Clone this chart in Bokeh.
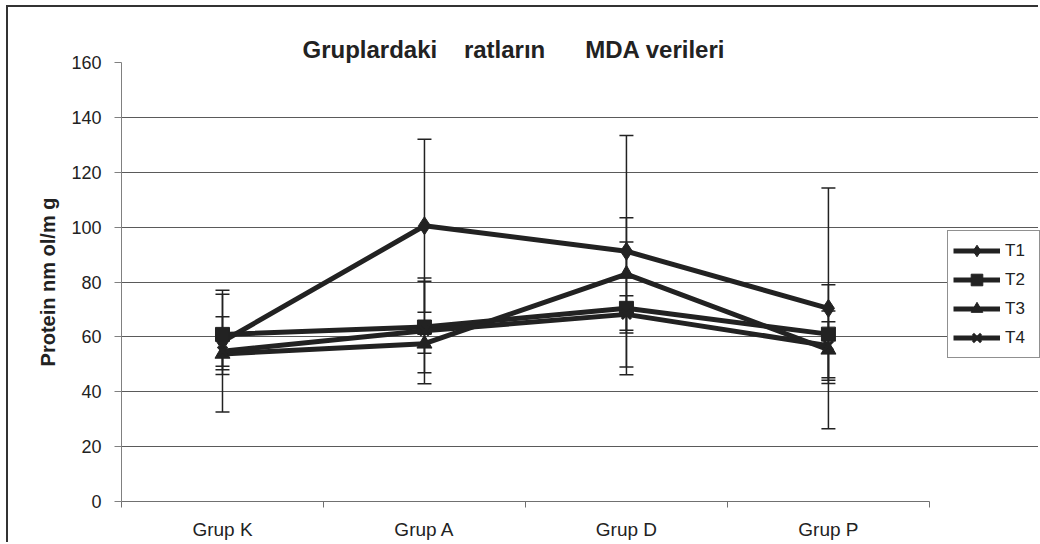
from bokeh.plotting import figure
from bokeh.models import (Range1d, FixedTicker, Whisker, TeeHead,
                          ColumnDataSource, Legend, LegendItem)
from bokeh.embed import file_html
from bokeh.resources import INLINE

# ---------------- data ----------------
groups = ["Grup K", "Grup A", "Grup D", "Grup P"]
series_names = ["T1", "T2", "T3", "T4"]
T1 = [58.3, 100.5, 91.2, 70.4]
T1_sd = [9.0, 31.5, 42.2, 43.9]
T2 = [60.9, 63.6, 70.4, 61.0]
T2_sd = [14.6, 16.7, 24.2, 18.0]
T3 = [53.8, 57.5, 82.9, 55.3]
T3_sd = [5.8, 3.5, 20.5, 10.2]
T4 = [54.8, 62.2, 68.2, 56.8]
T4_sd = [22.2, 19.3, 6.8, 12.6]
y_ticks = [0, 20, 40, 60, 80, 100, 120, 140, 160]
title_parts = ["Gruplardaki", "ratların", "MDA verileri"]
y_label = "Protein nm ol/m g"

FONT = "Liberation Sans"
INK = "#222222"

n = len(groups)
# category slots: each group occupies one unit, marks sit at the slot centre
xpos = [i + 0.5 for i in range(n)]

# the frame is widened to the right (room for the legend); grid and axis stop at n
p = figure(x_range=Range1d(0, n + 0.55), y_range=Range1d(0, 160),
           width=1032, height=537, output_backend="svg", toolbar_location=None,
           min_border_left=113, min_border_right=0, min_border_top=55, min_border_bottom=43)
p.styles = {"border-left": "2px solid #333333", "border-top": "2px solid #333333",
            "margin-left": "6px", "margin-top": "5px"}
p.outline_line_color = None
p.background_fill_color = "white"
p.border_fill_color = "white"
p.xgrid.visible = False

# title
p.title.text = title_parts[0] + "\u00a0\u00a0\u00a0\u00a0" + title_parts[1] + "\u00a0\u00a0\u00a0\u00a0\u00a0\u00a0" + title_parts[2]
p.title.align = "left"
p.title.offset = 181
p.title.standoff = 0
p.title.text_font = FONT
p.title.text_font_size = "24px"
p.title.text_font_style = "bold"
p.title.text_color = INK

# x axis: labels at slot centres, tick marks between categories
xa = p.xaxis[0]
xa.bounds = (0, n)
xa.ticker = FixedTicker(ticks=xpos, minor_ticks=list(range(n + 1)))
xa.major_label_overrides = {x: g for x, g in zip(xpos, groups)}
xa.major_tick_out = 0
xa.major_tick_in = 0
xa.minor_tick_out = 6
xa.minor_tick_in = 0
xa.axis_line_color = "#707070"
xa.minor_tick_line_color = "#707070"
xa.major_label_text_font = FONT
xa.major_label_text_font_size = "19px"
xa.major_label_text_color = INK
xa.major_label_standoff = 11

# y axis
ya = p.yaxis[0]
ya.ticker = FixedTicker(ticks=y_ticks)
ya.major_tick_out = 7
ya.major_tick_in = 0
ya.minor_tick_line_color = None
ya.axis_line_color = "#808080"
ya.major_tick_line_color = "#808080"
ya.major_label_text_font = FONT
ya.major_label_text_font_size = "18px"
ya.major_label_text_color = INK
ya.major_label_standoff = 13
ya.axis_label = y_label
ya.axis_label_text_font = FONT
ya.axis_label_text_font_size = "20px"
ya.axis_label_text_font_style = "bold"
ya.axis_label_text_color = INK
ya.axis_label_standoff = 9

yg = p.ygrid[0]
yg.ticker = FixedTicker(ticks=y_ticks[1:-1])
yg.bounds = (0, n)
yg.grid_line_color = "#5a5a5a"
yg.grid_line_width = 1

# error bars
all_vals = [T1, T2, T3, T4]
all_sd = [T1_sd, T2_sd, T3_sd, T4_sd]
for vals, sds in zip(all_vals, all_sd):
    src = ColumnDataSource(dict(x=xpos,
                                upper=[v + s for v, s in zip(vals, sds)],
                                lower=[v - s for v, s in zip(vals, sds)]))
    w = Whisker(source=src, base="x", upper="upper", lower="lower", dimension="height",
                line_color=INK, line_width=1.5,
                upper_head=TeeHead(size=14, line_color=INK, line_width=1.5),
                lower_head=TeeHead(size=14, line_color=INK, line_width=1.5))
    p.add_layout(w)

# series
markers = ["diamond", "square", "triangle", "x"]
msizes = [18, 14, 15, 13]
items = []
for name, vals, mk, ms in zip(series_names, all_vals, markers, msizes):
    src = ColumnDataSource(dict(x=xpos, y=vals))
    lr = p.line("x", "y", source=src, line_color=INK, line_width=5)
    if mk == "x":
        mr = p.scatter("x", "y", source=src, marker=mk, size=ms, line_color=INK, line_width=3)
    else:
        mr = p.scatter("x", "y", source=src, marker=mk, size=ms, fill_color=INK, line_color=INK)
    items.append(LegendItem(label=name, renderers=[lr, mr]))

legend = Legend(items=items, location=(826, 143), border_line_color=INK, border_line_width=1,
                label_text_font=FONT, label_text_font_size="17px", label_text_color=INK,
                glyph_width=47, glyph_height=29, spacing=0, padding=5, label_standoff=5,
                label_width=29, margin=0, background_fill_color="white", background_fill_alpha=1)
p.add_layout(legend, "center")

open("out.html", "w").write(file_html(p, INLINE))
